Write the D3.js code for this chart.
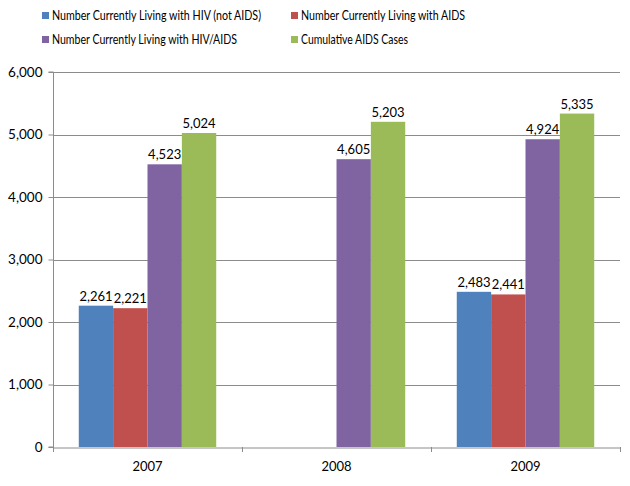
<!DOCTYPE html>
<html><head><meta charset="utf-8">
<script src="https://cdn.jsdelivr.net/npm/d3@7"></script>
<style>body{margin:0;background:#fff}svg{display:block}</style>
</head><body>
<svg id="c" width="630" height="486"></svg>
<script>
const categories = ["2007", "2008", "2009"];
const seriesNames = ["Number Currently Living with HIV (not AIDS)", "Number Currently Living with AIDS", "Number Currently Living with HIV/AIDS", "Cumulative AIDS Cases"];
const hivNotAids = [2261, null, 2483];
const livingAids = [2221, null, 2441];
const livingHivAids = [4523, 4605, 4924];
const cumulativeAids = [5024, 5203, 5335];
const yTicks = [0, 1000, 2000, 3000, 4000, 5000, 6000];
const colors = ["#4F81BD", "#C0504D", "#8064A2", "#9BBB59"];

(function () {
const series = [hivNotAids, livingAids, livingHivAids, cumulativeAids];
const svg = d3.select("#c");
const font = "Lato, 'Open Sans', sans-serif";
const pL = 53, pR = 620, pT = 72, pB = 447;

const x0 = d3.scaleBand().domain(categories).range([pL, pR]).paddingInner(0).paddingOuter(0);
const x1 = d3.scaleBand().domain(d3.range(4)).range([0, x0.bandwidth()]).paddingOuter(0.75).paddingInner(0);
const y = d3.scaleLinear().domain([0, 6000]).range([pB, pT]);
const fmt = d3.format(",");

svg.append("g").selectAll("line").data(yTicks.slice(1)).join("line")
  .attr("x1", pL).attr("x2", pR).attr("y1", d => Math.round(y(d)) + 0.5).attr("y2", d => Math.round(y(d)) + 0.5)
  .attr("stroke", "#8c8c8c").attr("stroke-width", 1);

const ya = svg.append("g").attr("transform", `translate(${pL + 0.5},0)`)
  .call(d3.axisLeft(y).tickValues(yTicks).tickFormat(fmt).tickSize(5).tickPadding(6));
ya.select(".domain").attr("stroke", "#8c8c8c").attr("d", `M-5,${pT}H0V${pB}H-5`);
ya.selectAll(".tick line").attr("stroke", "#8c8c8c");
ya.selectAll("text").attr("font-family", font).attr("font-size", 13.5).attr("fill", "#000");

const xa = svg.append("g").attr("transform", `translate(0,${pB + 0.5})`)
  .call(d3.axisBottom(x0).tickSize(0).tickPadding(14));
xa.select(".domain").attr("stroke", "#8c8c8c");
xa.selectAll("text").attr("font-family", font).attr("font-size", 13).attr("fill", "#000");
svg.append("g").selectAll("line").data(categories.map(c => x0(c)).concat([pR])).join("line")
  .attr("x1", d => Math.round(d) + 0.5).attr("x2", d => Math.round(d) + 0.5).attr("y1", pB).attr("y2", pB + 5)
  .attr("stroke", "#8c8c8c");

const g = svg.append("g");
series.forEach((vals, si) => {
  categories.forEach((c, ci) => {
    const v = vals[ci];
    if (v == null) return;
    const bx = x0(c) + x1(si);
    g.append("rect").attr("x", bx).attr("y", y(v)).attr("width", x1.bandwidth()).attr("height", y(0) - y(v))
      .attr("fill", colors[si]);
    g.append("text").attr("x", bx + x1.bandwidth() / 2).attr("y", y(v) - 5)
      .attr("text-anchor", "middle").attr("font-family", font).attr("font-size", 13).attr("fill", "#000")
      .text(fmt(v));
  });
});

const legPos = [[42, 16], [291, 16], [42, 40], [291, 40]];
const legW = [209, 164, 185, 107];
seriesNames.forEach((n, i) => {
  const [lx, ly] = legPos[i];
  svg.append("rect").attr("x", lx).attr("y", ly - 4).attr("width", 7).attr("height", 7).attr("fill", colors[i]);
  svg.append("text").attr("x", lx + 10).attr("y", ly).attr("dy", "0.35em")
    .attr("font-family", font).attr("font-size", 12.5).attr("fill", "#000")
    .attr("textLength", legW[i]).attr("lengthAdjust", "spacingAndGlyphs").text(n);
});
})();
</script>
</body></html>
